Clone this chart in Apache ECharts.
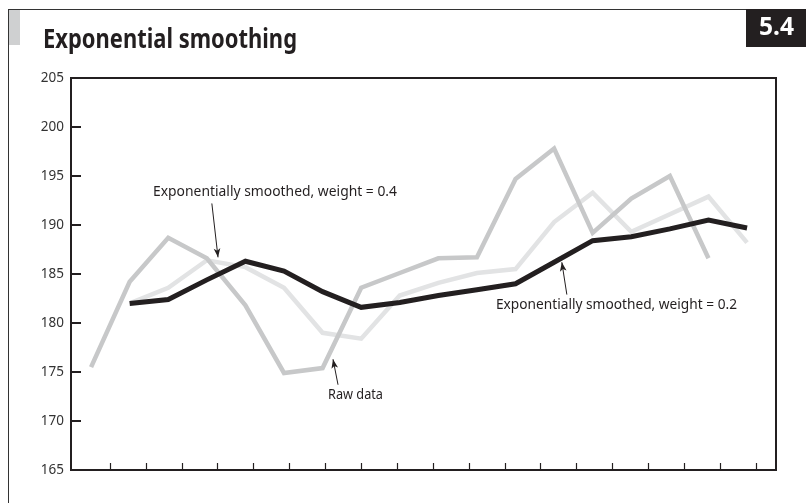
<!DOCTYPE html>
<html>
<head>
<meta charset="utf-8">
<script src="https://cdn.jsdelivr.net/npm/echarts@6/dist/echarts.min.js"></script>
<style>
html,body{margin:0;padding:0;background:#fff;}
#chart{width:806px;height:503px;}
</style>
</head>
<body>
<div id="chart"></div>
<script>
// ---- data ----
const periods = [0,1,2,3,4,5,6,7,8,9,10,11,12,13,14,15,16,17];
const rawData = [175.5, 184.2, 188.7, 186.6, 181.8, 174.9, 175.4, 183.6, 185.1, 186.6, 186.7, 194.7, 197.8, 189.2, 192.7, 195.0, 186.6];
const smooth04 = [182.0, 183.6, 186.4, 185.7, 183.6, 179.0, 178.4, 182.8, 184.1, 185.1, 185.5, 190.3, 193.3, 189.3, 191.1, 192.9, 188.2];
const smooth02 = [182.0, 182.4, 184.4, 186.3, 185.3, 183.2, 181.6, 182.1, 182.8, 183.4, 184.0, 186.2, 188.4, 188.8, 189.6, 190.5, 189.7];
const yTicks = [165, 170, 175, 180, 185, 190, 195, 200, 205];
const titleText = 'Exponential smoothing';
const badgeText = '5.4';
const label04 = 'Exponentially smoothed, weight = 0.4';
const label02 = 'Exponentially smoothed, weight = 0.2';
const labelRaw = 'Raw data';

const FONT = '"Noto Sans", "DejaVu Sans", sans-serif';
const DARK = '#231f20';

const chart = echarts.init(document.getElementById('chart'), null, {renderer: 'canvas'});

// measure helper for condensed text
const mctx = document.createElement('canvas').getContext('2d');
function fitScale(text, weight, size, target) {
  mctx.font = weight + ' ' + size + 'px ' + FONT;
  const w = mctx.measureText(text).width;
  return target / w;
}

function pairs(startIdx, arr) {
  return arr.map((v, i) => [periods[startIdx + i], v]);
}

// decorative tick positions on the x axis (in period units)
const xTickVals = [];
for (let k = 0; k < 19; k++) xTickVals.push(0.492 + k * 0.930);

function textEl(text, x, y, size, weight, target, color) {
  return {
    type: 'text', x: x, y: y, scaleX: fitScale(text, weight, size, target), silent: true,
    style: {
      text: text, fill: color || DARK,
      font: weight + ' ' + size + 'px ' + FONT,
      textAlign: 'left', textVerticalAlign: 'middle'
    }
  };
}

function arrow(from, to) {
  return [{coord: from, symbol: 'none'}, {coord: to, symbol: 'arrow'}];
}

const option = {
  animation: false,
  backgroundColor: '#fff',
  grid: {
    left: 71, right: 30, top: 78, bottom: 33,
    containLabel: false, outerBoundsMode: 'none',
    show: true, borderColor: DARK, borderWidth: 2, backgroundColor: 'transparent'
  },
  xAxis: {
    type: 'value', min: -0.52, max: 17.75,
    axisLine: {show: true, onZero: false, lineStyle: {color: DARK, width: 2}},
    axisTick: {show: true, inside: true, length: 7, customValues: xTickVals, lineStyle: {color: DARK, width: 1.2}},
    axisLabel: {show: false},
    splitLine: {show: false}
  },
  yAxis: {
    type: 'value', position: 'left', min: yTicks[0], max: yTicks[yTicks.length - 1], interval: 5,
    axisLine: {show: true, onZero: false, lineStyle: {color: DARK, width: 2}},
    axisTick: {show: true, inside: true, length: 10, lineStyle: {color: DARK, width: 2}},
    axisLabel: {color: '#333', fontFamily: FONT, fontSize: 13.5, margin: 7},
    splitLine: {show: false}
  },
  series: [
    {
      name: 'w04', type: 'line', data: pairs(1, smooth04), showSymbol: false, symbol: 'none',
      lineStyle: {color: '#e2e3e4', width: 4.5, join: 'miter'}, z: 2
    },
    {
      name: 'raw', type: 'line', data: pairs(0, rawData), showSymbol: false, symbol: 'none',
      lineStyle: {color: '#c7c8c9', width: 4.5, join: 'miter'}, z: 3
    },
    {
      name: 'w02', type: 'line', data: pairs(1, smooth02), showSymbol: false, symbol: 'none',
      lineStyle: {color: DARK, width: 5, join: 'miter'}, z: 4,
      markLine: {
        silent: true, animation: false,
        symbolSize: [5, 9],
        label: {show: false},
        lineStyle: {color: DARK, width: 1, type: 'solid'},
        data: [
          arrow([3.13, 192.2], [3.29, 186.7]),
          arrow([6.40, 173.7], [6.27, 176.3]),
          arrow([12.33, 182.9], [12.20, 186.2])
        ]
      }
    }
  ],
  graphic: [
    {type: 'line', silent: true, shape: {x1: 8, y1: 9.5, x2: 746, y2: 9.5}, style: {stroke: '#333', lineWidth: 1}},
    {type: 'line', silent: true, shape: {x1: 8.5, y1: 9, x2: 8.5, y2: 503}, style: {stroke: '#333', lineWidth: 1}},
    {type: 'rect', silent: true, shape: {x: 9, y: 10, width: 11, height: 35}, style: {fill: '#cfd0d1'}},
    {type: 'rect', silent: true, shape: {x: 746, y: 9, width: 60, height: 38}, style: {fill: DARK}},
    textEl(titleText, 43, 40, 27, 'bold', 254),
    textEl(badgeText, 759, 28, 25, 'bold', 35, '#fff'),
    textEl(label04, 153, 192, 13.5, 'normal', 244),
    textEl(labelRaw, 328, 395, 13.5, 'normal', 55),
    textEl(label02, 496, 305, 13.5, 'normal', 241)
  ]
};
chart.setOption(option);
</script>
</body>
</html>
